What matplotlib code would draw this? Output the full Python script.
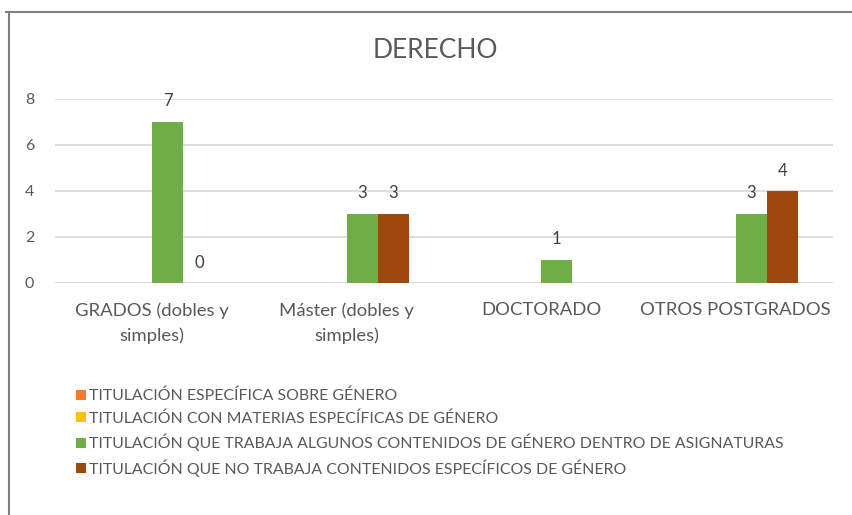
import matplotlib
matplotlib.use("Agg")
import matplotlib.pyplot as plt
import numpy as np
from matplotlib.patches import Patch
from matplotlib.lines import Line2D

plt.rcParams['font.family'] = ['Lato', 'DejaVu Sans']

title = "DERECHO"
categories = ["GRADOS (dobles y\nsimples)", "Máster (dobles y\nsimples)", "DOCTORADO", "OTROS POSTGRADOS"]
series_names = [
    "TITULACIÓN ESPECÍFICA SOBRE GÉNERO",
    "TITULACIÓN CON MATERIAS ESPECÍFICAS DE GÉNERO",
    "TITULACIÓN QUE TRABAJA ALGUNOS CONTENIDOS DE GÉNERO DENTRO DE ASIGNATURAS",
    "TITULACIÓN QUE NO TRABAJA CONTENIDOS ESPECÍFICOS DE GÉNERO",
]
s_especifica = [None, None, None, None]
s_materias = [None, None, None, None]
s_algunos = [7, 3, 1, 3]
s_no_trabaja = [0, 3, None, 4]
colors = ["#ED7D31", "#FFC000", "#70AD47", "#9E480E"]
y_ticks = [0, 2, 4, 6, 8]

W, H = 852, 515
fig = plt.figure(figsize=(W / 100, H / 100), dpi=100)
ax = fig.add_axes([55 / W, 1 - 283 / H, (833 - 55) / W, (283 - 99) / H])

x = np.arange(len(categories))
bw = 0.16
all_series = [s_especifica, s_materias, s_algunos, s_no_trabaja]
for i, (vals, c) in enumerate(zip(all_series, colors)):
    v = [np.nan if val is None else val for val in vals]
    bars = ax.bar(x + (i - 1.5) * bw, v, width=bw, color=c, zorder=3)
    labels = ["" if val is None else str(val) for val in vals]
    ax.bar_label(bars, labels=labels, padding=9, fontsize=12, color="#404040")

ax.set_xlim(-0.5, len(categories) - 0.5)
ax.set_ylim(0, 8)
ax.set_yticks(y_ticks)
ax.set_yticklabels([str(t) for t in y_ticks], fontsize=11.5, color="#595959")
ax.set_xticks(x)
ax.set_xticklabels(categories, fontsize=13.3, color="#595959", linespacing=1.65)
ax.tick_params(axis='both', length=0)
ax.tick_params(axis='y', pad=15)
ax.tick_params(axis='x', pad=14)
ax.grid(axis='y', color="#D9D9D9", linewidth=1.2, zorder=0)
for s in ax.spines.values():
    s.set_visible(False)
ax.axhline(0, color="#D9D9D9", linewidth=1.2, zorder=1)

fig.text(435 / W, 1 - 50 / H, title, ha='center', va='center', fontsize=19, color="#595959")

handles = [Patch(facecolor=c, edgecolor='none') for c in colors]
leg = fig.legend(handles, series_names, loc='upper left', bbox_to_anchor=(76 / W, 1 - 389 / H),
                 frameon=False, fontsize=11.4, handlelength=0.6, handleheight=0.6,
                 handletextpad=0.25, labelspacing=0.5, borderpad=0, borderaxespad=0)
for t in leg.get_texts():
    t.set_color("#595959")

# outer chart border (partially cropped in the reference)
fig.add_artist(Line2D([6 / W, 1], [1 - 12 / H, 1 - 12 / H], transform=fig.transFigure, color="#7F7F7F", linewidth=1.5))
fig.add_artist(Line2D([9 / W, 9 / W], [0, 1 - 12 / H], transform=fig.transFigure, color="#7F7F7F", linewidth=1.5))

fig.savefig("out.png", dpi=100)
